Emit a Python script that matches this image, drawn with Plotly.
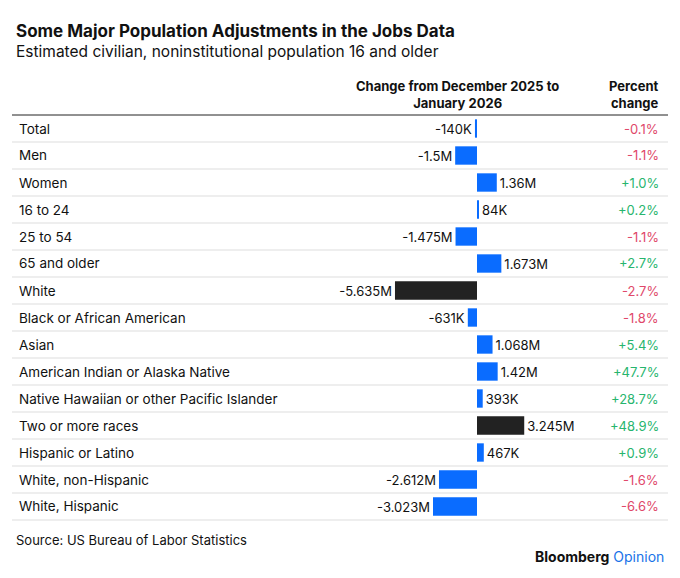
import plotly.graph_objects as go

W, H = 680, 578
OFF = 8  # page margin of the browser

categories = ["Total", "Men", "Women", "16 to 24", "25 to 54", "65 and older", "White",
              "Black or African American", "Asian", "American Indian or Alaska Native",
              "Native Hawaiian or other Pacific Islander", "Two or more races",
              "Hispanic or Latino", "White, non-Hispanic", "White, Hispanic"]
change_m = [-0.140, -1.5, 1.36, 0.084, -1.475, 1.673, -5.635, -0.631, 1.068, 1.42,
            0.393, 3.245, 0.467, -2.612, -3.023]
change_labels = ["-140K", "-1.5M", "1.36M", "84K", "-1.475M", "1.673M", "-5.635M", "-631K",
                 "1.068M", "1.42M", "393K", "3.245M", "467K", "-2.612M", "-3.023M"]
pct = [-0.1, -1.1, 1.0, 0.2, -1.1, 2.7, -2.7, -1.8, 5.4, 47.7, 28.7, 48.9, 0.9, -1.6, -6.6]

FONT = "Inter, Roboto, sans-serif"
BLUE, BLACK = "#0a6cff", "#222222"
RED, GREEN = "#e0486a", "#27b56e"

top, bottom = 115, 520
row_h = (bottom - top) / len(categories)
def px(p):
    return (p - OFF) / W
def py(p):
    return 1 - (p - OFF) / H

bar_colors = [BLACK if c in ("White", "Two or more races") else BLUE for c in categories]

fig = go.Figure(go.Bar(
    x=change_m, y=categories, orientation="h",
    marker=dict(color=bar_colors, line_width=0), width=0.68,
    text=change_labels, textposition="outside", cliponaxis=False,
    textfont=dict(family=FONT, size=13, color="#111"),
))

ann = [
    dict(x=px(14), y=py(31), text="<b>Some Major Population Adjustments in the Jobs Data</b>",
         font=dict(size=17, color="#111")),
    dict(x=px(14), y=py(51), text="Estimated civilian, noninstitutional population 16 and older",
         font=dict(size=15.5, color="#111")),
    dict(x=px(457), y=py(94), text="<b>Change from December 2025 to<br>January 2026</b>",
         xanchor="center", font=dict(size=13, color="#111"), align="center"),
    dict(x=px(661), y=py(94), text="<b>Percent<br>change</b>", xanchor="right",
         font=dict(size=13, color="#111"), align="right"),
    dict(x=px(14), y=py(540), text="Source: US Bureau of Labor Statistics",
         font=dict(size=13, color="#111")),
    dict(x=px(666), y=py(556), text="<b>Bloomberg</b> <span style='color:#1a73e8'>Opinion</span>",
         xanchor="right", font=dict(size=14, color="#111")),
]
shapes = [dict(type="line", xref="paper", yref="paper", x0=px(12), x1=px(668),
               y0=py(top), y1=py(top), line=dict(color="#222", width=1))]
for i, (c, p) in enumerate(zip(categories, pct)):
    yc = top + (i + 0.5) * row_h
    ann.append(dict(x=px(17), y=py(yc), text=c, font=dict(size=13.5, color="#111")))
    ann.append(dict(x=px(661), y=py(yc), text=f"{p:+.1f}%", xanchor="right",
                    font=dict(size=13, color=GREEN if p >= 0 else RED)))
    yl = top + (i + 1) * row_h
    shapes.append(dict(type="line", xref="paper", yref="paper", x0=px(12), x1=px(668),
                       y0=py(yl), y1=py(yl), line=dict(color="#dddddd", width=1)))
for a in ann:
    a.setdefault("xref", "paper"); a.setdefault("yref", "paper")
    a.setdefault("xanchor", "left"); a.setdefault("yanchor", "middle")
    a["showarrow"] = False

fig.update_layout(
    width=W, height=H, margin=dict(l=0, r=0, t=0, b=0),
    paper_bgcolor="white", plot_bgcolor="white", showlegend=False,
    font=dict(family=FONT),
    xaxis=dict(domain=[px(330), px(570)], range=[-10.1, 6.39], visible=False, fixedrange=True),
    yaxis=dict(domain=[py(bottom), py(top)], range=[len(categories) - 0.5, -0.5],
               visible=False, fixedrange=True),
    annotations=ann, shapes=shapes,
)
fig.write_html("out.html")
